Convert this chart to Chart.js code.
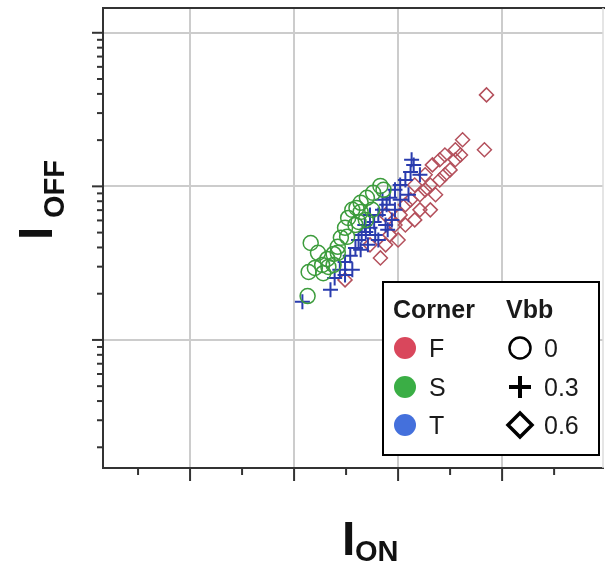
<!DOCTYPE html>
<html><head><meta charset="utf-8">
<script src="https://cdn.jsdelivr.net/npm/chart.js@4/dist/chart.umd.min.js"></script>
<style>html,body{margin:0;padding:0;background:#fff;}canvas{display:block}</style>
</head><body>
<canvas id="c" width="605" height="563"></canvas>
<script>
// ---- data (arbitrary linear I_ON units, log I_OFF units) ----
const corners = ['F', 'S', 'T'];
const vbbLevels = ['0', '0.3', '0.6'];
const xMajorTicks = [1, 2, 3, 4];
const xMinorTicks = [0.5, 1.5, 2.5, 3.5, 4.5];
const yDecades = [0.1, 1, 10, 100];
const yMinorFactors = [2, 3, 4, 5, 6, 7, 8, 9];
const xRange = [0.163, 4.97];
const yRange = [0.1466, 145];

// Corner S, Vbb 0 (circles)
const sIon  = [2.16,2.14,2.13,2.20,2.23,2.27,2.28,2.32,2.33,2.38,2.38,2.42,2.42,2.45,2.49,2.51,2.52,2.56,2.59,2.60,2.62,2.64,2.64,2.69,2.70,2.75,2.76,2.83,2.86];
const sIoff = [4.28,2.77,1.93,2.94,3.69,3.08,2.72,3.37,2.99,3.63,3.08,4.04,3.69,4.62,5.37,4.69,6.23,7.03,5.61,7.24,5.87,6.82,7.81,6.05,8.42,7.03,9.07,10.07,9.49];
// Corner T, Vbb 0.3 (plus)
const tIon  = [2.08,2.35,2.39,2.44,2.49,2.49,2.54,2.56,2.59,2.62,2.64,2.65,2.68,2.69,2.71,2.73,2.73,2.77,2.78,2.81,2.81,2.85,2.85,2.88,2.89,2.90,2.92,2.94,2.97,2.97,3.02,3.02,3.07,3.10,3.12,3.13,3.15,3.21];
const tIoff = [1.77,2.12,2.53,2.86,3.22,2.65,3.53,2.86,3.97,4.48,3.86,4.83,5.61,5.05,4.16,5.37,6.52,5.87,4.83,6.52,4.48,7.03,8.17,5.61,7.58,5.21,8.42,6.05,9.49,7.03,10.2,8.17,11.0,8.81,12.4,14.9,13.8,11.9];
// Corner F, Vbb 0.6 (diamonds)
const fIon  = [2.49,2.73,2.83,2.88,2.92,2.97,3.00,3.02,3.07,3.07,3.12,3.16,3.16,3.21,3.21,3.26,3.26,3.31,3.31,3.33,3.36,3.40,3.40,3.45,3.45,3.50,3.55,3.55,3.60,3.62,3.83,3.85,2.88];
const fIoff = [2.46,4.16,3.42,4.16,4.83,5.61,4.48,6.52,7.58,5.61,8.17,10.2,6.05,8.81,7.03,11.9,9.49,10.2,7.03,13.8,8.81,14.9,11.0,16.0,11.9,12.8,17.3,14.9,16.0,20.1,17.3,39.4,6.52];

const toPts = (xs, ys) => xs.map((x, i) => ({x: x, y: ys[i]}));

const cornerColors = {F: '#d9475c', S: '#3aae45', T: '#4470dc'};
const markColors = {F: '#b4505c', S: '#3c9c3c', T: '#2a3cae'};

const decoPlugin = {
  id: 'deco',
  afterDraw(chart) {
    const ctx = chart.ctx, xs = chart.scales.x, ys = chart.scales.y, a = chart.chartArea;
    ctx.save();
    ctx.strokeStyle = '#333';
    ctx.lineWidth = 2;
    ctx.lineCap = 'butt';
    // frame top
    ctx.beginPath(); ctx.moveTo(a.left - 1, a.top); ctx.lineTo(605, a.top); ctx.stroke();
    // right faint border
    ctx.strokeStyle = '#dddddd'; ctx.lineWidth = 1.5;
    ctx.beginPath(); ctx.moveTo(a.right, a.top); ctx.lineTo(a.right, a.bottom); ctx.stroke();
    ctx.strokeStyle = '#333'; ctx.lineWidth = 2;
    // x ticks
    xMajorTicks.forEach(v => { const p = xs.getPixelForValue(v); ctx.beginPath(); ctx.moveTo(p, a.bottom); ctx.lineTo(p, a.bottom + 13); ctx.stroke(); });
    xMinorTicks.forEach(v => { if (v < xRange[0] || v > xRange[1]) return; const p = xs.getPixelForValue(v); ctx.beginPath(); ctx.moveTo(p, a.bottom); ctx.lineTo(p, a.bottom + 7); ctx.stroke(); });
    // y ticks
    yDecades.forEach(d => {
      if (d >= yRange[0] && d <= yRange[1]) { const p = ys.getPixelForValue(d); ctx.beginPath(); ctx.moveTo(a.left, p); ctx.lineTo(a.left - 11, p); ctx.stroke(); }
      yMinorFactors.forEach(f => { const v = d * f; if (v < yRange[0] || v > yRange[1]) return; const p = ys.getPixelForValue(v); ctx.beginPath(); ctx.moveTo(a.left, p); ctx.lineTo(a.left - 6, p); ctx.stroke(); });
    });

    // axis titles
    ctx.fillStyle = '#111';
    ctx.textBaseline = 'alphabetic'; ctx.textAlign = 'left';
    ctx.font = 'bold 48px "Liberation Sans", Arial, sans-serif';
    ctx.fillText('I', 342, 555);
    ctx.font = 'bold 29px "Liberation Sans", Arial, sans-serif';
    ctx.fillText('ON', 355, 561);
    ctx.save();
    ctx.translate(52, 240); ctx.rotate(-Math.PI / 2);
    ctx.font = 'bold 48px "Liberation Sans", Arial, sans-serif';
    ctx.fillText('I', 0, 0);
    ctx.font = 'bold 29px "Liberation Sans", Arial, sans-serif';
    ctx.fillText('OFF', 22, 12);
    ctx.restore();

    // legend
    const L = {x: 383, y: 282, w: 216, h: 173};
    ctx.fillStyle = '#fff'; ctx.fillRect(L.x, L.y, L.w, L.h);
    ctx.strokeStyle = '#000'; ctx.lineWidth = 2; ctx.strokeRect(L.x, L.y, L.w, L.h);
    ctx.fillStyle = '#1a1a1a';
    ctx.font = 'bold 25px "Liberation Sans", Arial, sans-serif';
    ctx.fillText('Corner', 393, 318);
    ctx.fillText('Vbb', 506, 318);
    const rowsY = [348, 387, 425];
    ctx.font = '25px "Liberation Sans", Arial, sans-serif';
    corners.forEach((c, i) => {
      ctx.fillStyle = cornerColors[c];
      ctx.beginPath(); ctx.arc(405, rowsY[i], 11, 0, Math.PI * 2); ctx.fill();
      ctx.fillStyle = '#1a1a1a';
      ctx.fillText(c, 429, rowsY[i] + 9);
    });
    ctx.strokeStyle = '#000';
    ctx.lineWidth = 2.5; ctx.beginPath(); ctx.arc(520, rowsY[0], 10.5, 0, Math.PI * 2); ctx.stroke();
    ctx.lineWidth = 4; ctx.beginPath(); ctx.moveTo(509, rowsY[1]); ctx.lineTo(531, rowsY[1]); ctx.moveTo(520, rowsY[1] - 11); ctx.lineTo(520, rowsY[1] + 11); ctx.stroke();
    ctx.lineWidth = 3.5; ctx.beginPath(); ctx.moveTo(520, rowsY[2] - 12); ctx.lineTo(532, rowsY[2]); ctx.lineTo(520, rowsY[2] + 12); ctx.lineTo(508, rowsY[2]); ctx.closePath(); ctx.stroke();
    ctx.fillStyle = '#1a1a1a';
    vbbLevels.forEach((v, i) => ctx.fillText(v, 544, rowsY[i] + 9));
    ctx.restore();
  }
};

new Chart(document.getElementById('c'), {
  type: 'scatter',
  data: {
    datasets: [
      {label: 'S / 0', data: toPts(sIon, sIoff), pointStyle: 'circle', pointRadius: 7.5, borderColor: markColors.S, backgroundColor: 'transparent', borderWidth: 1.5},
      {label: 'T / 0.3', data: toPts(tIon, tIoff), pointStyle: 'cross', pointRadius: 7.5, borderColor: markColors.T, backgroundColor: 'transparent', borderWidth: 2},
      {label: 'F / 0.6', data: toPts(fIon, fIoff), pointStyle: 'rectRot', pointRadius: 7, borderColor: markColors.F, backgroundColor: 'transparent', borderWidth: 1.5}
    ]
  },
  options: {
    responsive: false,
    animation: false,
    devicePixelRatio: 1,
    layout: {autoPadding: false, padding: {left: 103, right: 2, top: 8, bottom: 95}},
    plugins: {legend: {display: false}, tooltip: {enabled: false}},
    scales: {
      x: {
        type: 'linear', min: xRange[0], max: xRange[1],
        afterBuildTicks: s => { s.ticks = xMajorTicks.map(v => ({value: v})); },
        ticks: {display: false},
        grid: {color: '#cccccc', lineWidth: 2, drawTicks: false},
        border: {color: '#333', width: 2}
      },
      y: {
        type: 'logarithmic', min: yRange[0], max: yRange[1],
        afterBuildTicks: s => { s.ticks = yDecades.filter(v => v >= yRange[0] && v <= yRange[1]).map(v => ({value: v})); },
        ticks: {display: false},
        grid: {color: '#cccccc', lineWidth: 2, drawTicks: false},
        border: {color: '#333', width: 2}
      }
    }
  },
  plugins: [decoPlugin]
});
</script>
</body></html>
